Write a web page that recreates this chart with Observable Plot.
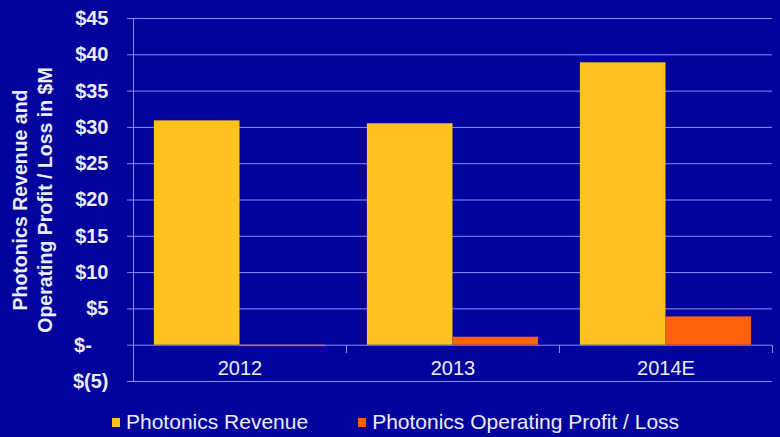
<!DOCTYPE html>
<html>
<head>
<meta charset="utf-8">
<script src="https://cdn.jsdelivr.net/npm/d3@7"></script>
<script src="https://cdn.jsdelivr.net/npm/@observablehq/plot@0.6"></script>
<style>
  html, body { margin: 0; padding: 0; background: #02029c; }
  #wrap { position: relative; width: 780px; height: 437px; background: #02029c; overflow: hidden;
          font-family: "Liberation Sans", Arial, sans-serif; color: #ececff; }
  #ytitle { position: absolute; left: 33px; top: 200px; width: 380px; text-align: center;
            font-weight: bold; font-size: 19.5px; line-height: 25px;
            transform: translate(-50%, -50%) rotate(-90deg); white-space: nowrap; }
  #legend { position: absolute; left: 112px; top: 409px; height: 26px; display: flex; align-items: center;
            font-size: 21px; }
  .item { display: flex; align-items: center; }
  .sw { width: 8px; height: 9px; margin-right: 6px; }
</style>
</head>
<body>
<div id="wrap">
  <div id="chart"></div>
  <div id="ytitle">Photonics Revenue and<br>Operating Profit / Loss in $M</div>
  <div id="legend"></div>
</div>
<script>
const years = ["2012", "2013", "2014E"];
const revenue = [30.9, 30.5, 38.9];
const profit = [-0.2, 1.1, 3.9];
const seriesKeys = ["Revenue", "Profit"];
const seriesNames = ["Photonics Revenue", "Photonics Operating Profit / Loss"];
const seriesColors = ["#ffc21f", "#ff6208"];
const yTicks = [-5, 0, 5, 10, 15, 20, 25, 30, 35, 40, 45];

const bg = "#02029c";
const gridColor = "#8c8cff";
const textColor = "#ececff";

const data = years.flatMap((yr, i) => [
  {year: yr, series: seriesKeys[0], value: revenue[i]},
  {year: yr, series: seriesKeys[1], value: profit[i]}
]);

const fmt = d => d === 0 ? "$-\u00a0\u00a0\u00a0" : d < 0 ? `$(${-d})` : `$${d}`;

const chart = Plot.plot({
  width: 780,
  height: 395,
  marginLeft: 132,
  marginRight: 7,
  marginTop: 18,
  marginBottom: 14,
  style: {background: bg, fontFamily: "Liberation Sans, Arial, sans-serif", color: textColor, overflow: "visible"},
  fx: {domain: years, padding: 0, label: null},
  x: {domain: seriesKeys, paddingInner: 0, paddingOuter: 0.244, axis: null, round: false},
  y: {domain: [-5, 45], label: null},
  color: {domain: seriesKeys, range: seriesColors},
  marks: [
    Plot.gridY(yTicks, {stroke: gridColor, strokeOpacity: 1, strokeWidth: 1}),
    Plot.barY(data, {fx: "year", x: "series", y: "value", fill: "series"}),
    Plot.frame({anchor: "right", stroke: gridColor, strokeOpacity: 1, insetTop: 327, insetBottom: 29}),
    Plot.frame({anchor: "left", stroke: gridColor, strokeOpacity: 1, facet: "super"}),
    Plot.axisY(yTicks, {tickFormat: fmt, tickSize: 6, tickPadding: 19, stroke: gridColor,
                        fill: textColor, fontSize: 20, fontWeight: "bold", label: null}),
    Plot.axisFx({anchor: "bottom", tickSize: 0, tickPadding: 0, dy: -21, fontSize: 20,
                 fill: textColor, label: null})
  ]
});
document.getElementById("chart").appendChild(chart);

const legend = document.getElementById("legend");
seriesNames.forEach((name, i) => {
  const item = document.createElement("div");
  item.className = "item";
  if (i > 0) item.style.marginLeft = "50px";
  const sw = document.createElement("div");
  sw.className = "sw";
  sw.style.background = seriesColors[i];
  const label = document.createElement("span");
  label.textContent = name;
  item.appendChild(sw);
  item.appendChild(label);
  legend.appendChild(item);
});
</script>
</body>
</html>
